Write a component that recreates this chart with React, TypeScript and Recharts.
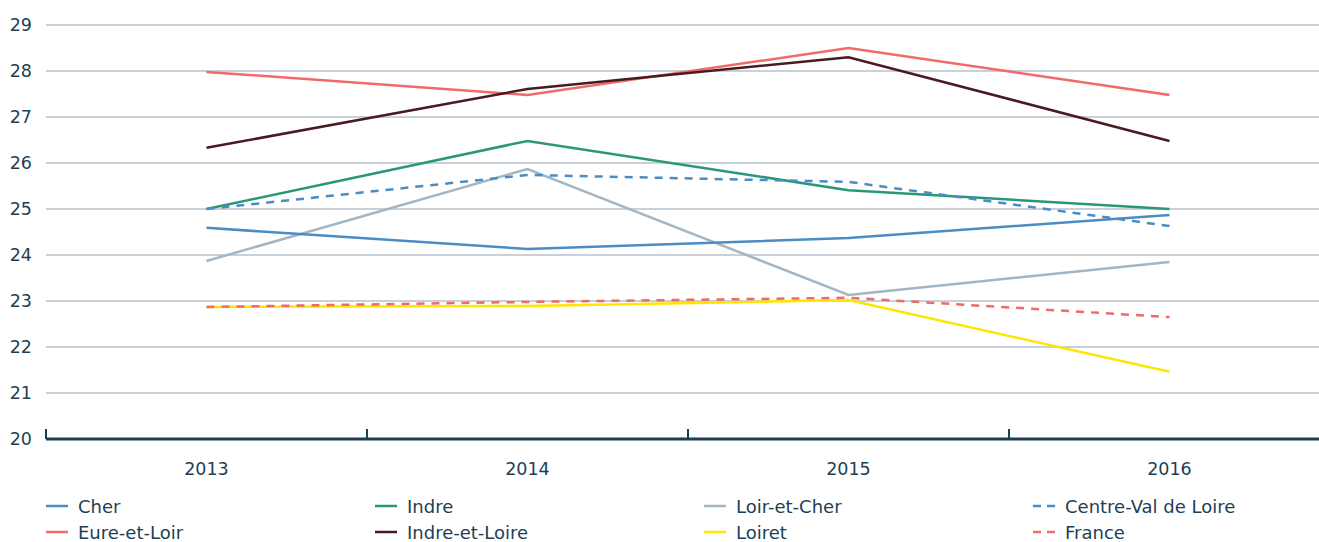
import React from 'react';
import { LineChart, Line, XAxis, YAxis, CartesianGrid, Legend } from 'recharts';

const years = ['2013', '2014', '2015', '2016'];
const yTicks = [20, 21, 22, 23, 24, 25, 26, 27, 28, 29];

const cher = [24.59, 24.13, 24.37, 24.87];
const indre = [25.0, 26.48, 25.41, 25.0];
const loirEtCher = [23.87, 25.87, 23.13, 23.85];
const centreValDeLoire = [25.0, 25.74, 25.59, 24.63];
const eureEtLoir = [27.98, 27.48, 28.5, 27.48];
const indreEtLoire = [26.33, 27.61, 28.3, 26.48];
const loiret = [22.87, 22.89, 23.02, 21.46];
const france = [22.87, 22.98, 23.07, 22.65];

const series = [
  { key: 'Cher', values: cher, color: '#4a8cc4', dashed: false },
  { key: 'Indre', values: indre, color: '#2a9878', dashed: false },
  { key: 'Loir-et-Cher', values: loirEtCher, color: '#a3b6c4', dashed: false },
  { key: 'Centre-Val de Loire', values: centreValDeLoire, color: '#4a8cc4', dashed: true },
  { key: 'Eure-et-Loir', values: eureEtLoir, color: '#f06a68', dashed: false },
  { key: 'Indre-et-Loire', values: indreEtLoire, color: '#4a1a22', dashed: false },
  { key: 'Loiret', values: loiret, color: '#ffe600', dashed: false },
  { key: 'France', values: france, color: '#f06a68', dashed: true },
];

// draw order in the chart (yellow under the dashed France line)
const drawOrder = ['Loiret', 'Loir-et-Cher', 'Cher', 'Indre', 'Centre-Val de Loire', 'Eure-et-Loir', 'Indre-et-Loire', 'France'];

const data = years.map((year, i) => {
  const row: Record<string, string | number> = { year };
  series.forEach((s) => { row[s.key] = s.values[i]; });
  return row;
});

const TEXT = '#1d3f55';
const FONT = '"DejaVu Sans", sans-serif';
const CHART_W = 1340;
const LEFT = 46;
const RIGHT = 10;
const BAND = (CHART_W - LEFT - RIGHT) / years.length;

const XTick = (props: any) => {
  const { x, y, payload } = props;
  return (
    <g>
      <line x1={x - BAND / 2} x2={x - BAND / 2} y1={y - 10} y2={y} stroke={TEXT} strokeWidth={2} />
      <text x={x} y={y + 36} textAnchor="middle" fill={TEXT} fontSize={17.5} fontFamily={FONT}>
        {payload.value}
      </text>
    </g>
  );
};

const LegendContent = () => (
  <div style={{ position: 'relative', height: 58, fontFamily: FONT, fontSize: 18, color: TEXT }}>
    {series.map((s, i) => {
      const col = i % 4;
      const row = Math.floor(i / 4);
      return (
        <div
          key={s.key}
          style={{ position: 'absolute', left: LEFT + col * 329, top: 11 + row * 26, display: 'flex', alignItems: 'center', height: 22 }}
        >
          <svg width={22} height={4} style={{ marginRight: 10 }}>
            <line x1={0} x2={22} y1={2} y2={2} stroke={s.color} strokeWidth={2.5} strokeDasharray={s.dashed ? '8 6' : undefined} />
          </svg>
          <span>{s.key}</span>
        </div>
      );
    })}
  </div>
);

export default function App() {
  return (
    <div style={{ position: 'absolute', left: 0, top: 0, width: 1319, height: 542, overflow: 'hidden', background: '#fff' }}>
      <LineChart width={CHART_W} height={542} data={data} margin={{ top: 25, right: RIGHT, bottom: 0, left: 0 }}>
        <CartesianGrid vertical={false} stroke="#93a2b4" strokeWidth={1.2} />
        <XAxis
          dataKey="year"
          scale="band"
          axisLine={{ stroke: TEXT, strokeWidth: 3 }}
          tickLine={false}
          tickSize={0}
          tickMargin={0}
          height={45}
          tick={<XTick />}
          interval={0}
        />
        <YAxis
          domain={[20, 29]}
          ticks={yTicks}
          axisLine={false}
          tickLine={false}
          tickSize={0}
          tickMargin={14}
          width={LEFT}
          tick={{ fill: TEXT, fontSize: 17.5, fontFamily: FONT }}
        />
        <Legend verticalAlign="bottom" content={<LegendContent />} wrapperStyle={{ left: 0, width: 1319 }} />
        {drawOrder.map((k) => {
          const s = series.find((x) => x.key === k)!;
          return (
            <Line
              key={k}
              type="linear"
              dataKey={k}
              stroke={s.color}
              strokeWidth={2.5}
              strokeDasharray={s.dashed ? '8 7' : undefined}
              dot={false}
              activeDot={false}
              isAnimationActive={false}
            />
          );
        })}
      </LineChart>
    </div>
  );
}
